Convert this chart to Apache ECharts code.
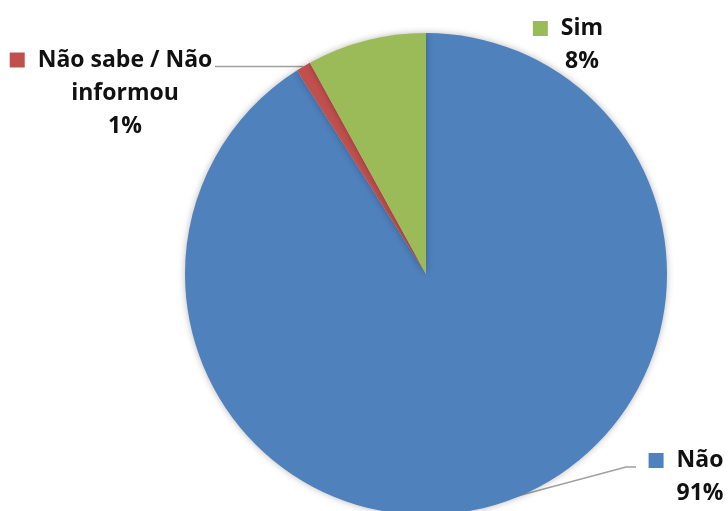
<!DOCTYPE html>
<html>
<head>
<meta charset="utf-8">
<script src="https://cdn.jsdelivr.net/npm/echarts@6/dist/echarts.min.js"></script>
<style>
  html, body { margin: 0; padding: 0; background: #fff; }
  #chart { width: 728px; height: 511px; }
</style>
</head>
<body>
<div id="chart"></div>
<script>
// dados
const categories = ['Não', 'Não sabe / Não informou', 'Sim'];
const labelNames = ['Não', 'Não sabe / Não\ninformou', 'Sim'];
const values = [91, 1, 8];
const colors = ['#4F81BD', '#C0504D', '#9BBB59'];

// onde ficam os rótulos (centro do bloco de texto)
const labelPos = [
  { x: 700, y: 477 },
  { x: 125, y: 93 },
  { x: 582, y: 45 },
];

const chart = echarts.init(document.getElementById('chart'));

const rich = {
  gap: { width: 13 },
  pad: { width: 28 },
};
colors.forEach((c, i) => {
  rich['sq' + i] = { width: 15, height: 15, backgroundColor: c };
});

// linha guia estilo Excel: parte do ponto da fatia e chega no rótulo
const guidePoints = (i, orig) => {
  if (!orig) return undefined;
  const p0 = orig[0];
  const pos = labelPos[i];
  if (i === 1) {
    return [p0, [pos.x + 90, p0[1]], [pos.x + 90, p0[1]]];
  }
  if (i === 0) {
    const start = [p0[0], p0[1] - 3];
    return [start, [pos.x - 74, pos.y - 10], [pos.x - 64, pos.y - 10]];
  }
  return orig;
};

const option = {
  backgroundColor: '#fff',
  animation: false,
  series: [
    {
      type: 'pie',
      center: [426, 274],
      radius: 241,
      startAngle: 90,
      clockwise: true,
      avoidLabelOverlap: false,
      itemStyle: {
        borderWidth: 0,
        shadowBlur: 7,
        shadowColor: 'rgba(0,0,0,0.28)',
      },
      label: {
        show: true,
        color: '#111',
        fontFamily: 'Open Sans',
        fontWeight: 'bold',
        fontSize: 23,
        lineHeight: 33,
        align: 'center',
        rich: rich,
        formatter: p => {
          const lines = labelNames[p.dataIndex].split('\n');
          lines[0] = `{sq${p.dataIndex}|}{gap|}${lines[0]}{pad|}`;
          lines.push(Math.round(p.percent) + '%');
          return lines.join('\n');
        },
      },
      labelLine: {
        show: true,
        length: 10,
        length2: 10,
        lineStyle: { color: '#a0a0a0', width: 1.5 },
      },
      labelLayout: params => {
        const i = params.dataIndex;
        const pos = labelPos[i];
        return {
          x: pos.x,
          y: pos.y,
          align: 'center',
          verticalAlign: 'middle',
          labelLinePoints: guidePoints(i, params.labelLinePoints),
        };
      },
      emphasis: { disabled: true },
      data: categories.map((name, i) => ({
        name: name,
        value: values[i],
        itemStyle: { color: colors[i] },
        labelLine: { show: i !== 2 },
      })),
    },
  ],
};

chart.setOption(option);
window.onresize = function() {
  chart.resize();
};
</script>
</body>
</html>
